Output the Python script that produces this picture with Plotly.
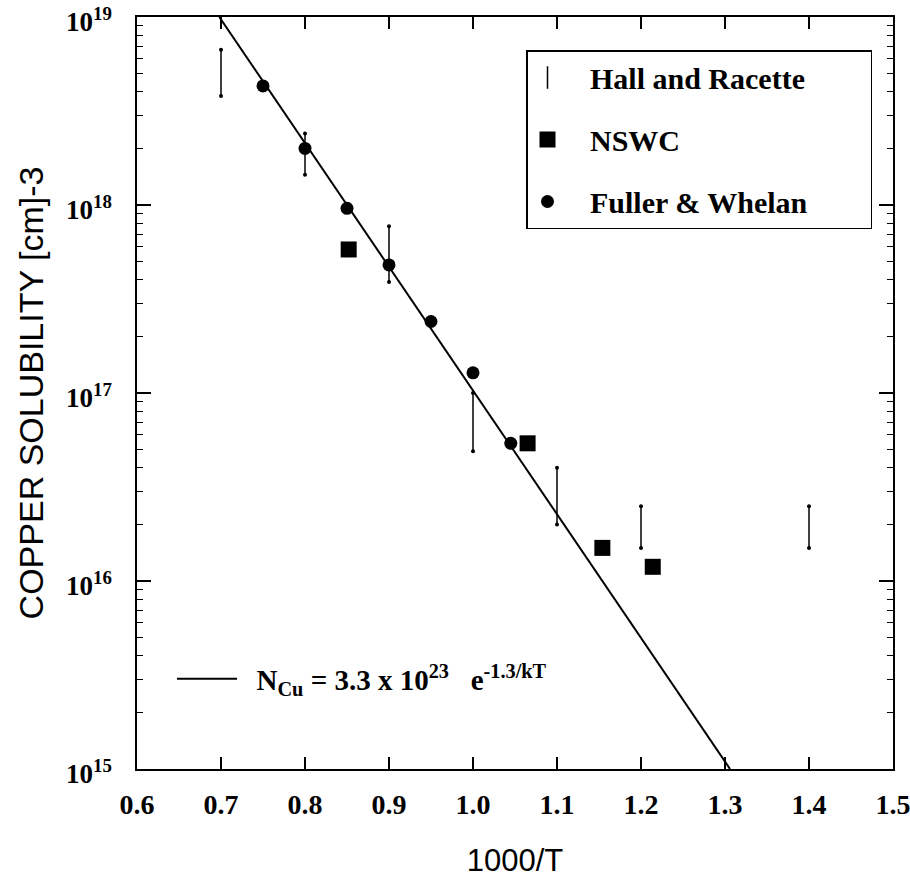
import plotly.graph_objects as go

# ---- data ----
fuller_x = [0.75, 0.80, 0.85, 0.90, 0.95, 1.00, 1.045]
fuller_y = [4.3e18, 2.0e18, 9.6e17, 4.8e17, 2.4e17, 1.28e17, 5.4e16]

nswc_x = [0.852, 1.065, 1.154, 1.214]
nswc_y = [5.8e17, 5.4e16, 1.5e16, 1.19e16]

hall_x = [0.70, 0.80, 0.90, 1.00, 1.10, 1.20, 1.40]
hall_low = [3.8e18, 1.45e18, 3.9e17, 4.9e16, 2.0e16, 1.5e16, 1.5e16]
hall_high = [6.7e18, 2.4e18, 7.7e17, 1.0e17, 4.0e16, 2.5e16, 2.5e16]

fit_x = [0.698, 1.306]
fit_y = [1e19, 1e15]

x_ticks = [0.6, 0.7, 0.8, 0.9, 1.0, 1.1, 1.2, 1.3, 1.4, 1.5]
y_exps = [15, 16, 17, 18, 19]

SERIF = "Liberation Serif, Times New Roman, serif"
SANS = "Liberation Sans, Arial, sans-serif"
NB = "\u00a0"

# build Hall & Racette vertical bars (segments with end dots)
hx, hy = [], []
for x, lo, hi in zip(hall_x, hall_low, hall_high):
    hx += [x, x, None]
    hy += [hi, lo, None]

fig = go.Figure()

fig.add_trace(go.Scatter(
    x=hx, y=hy, mode="lines+markers",
    line=dict(color="black", width=1.5),
    marker=dict(color="black", size=4),
    showlegend=False, hoverinfo="skip"))

# legend entry for Hall and Racette
fig.add_trace(go.Scatter(
    x=[None], y=[None], mode="markers", name=NB * 3 + "Hall and Racette" + NB * 8,
    marker=dict(symbol="line-ns-open", size=16, color="black",
                line=dict(color="black", width=1.5)),
    legendgroup="a"))

fig.add_trace(go.Scatter(
    x=nswc_x, y=nswc_y, mode="markers", name=NB * 3 + "NSWC",
    marker=dict(symbol="square", size=16, color="black"),
    legendgroup="b"))

fig.add_trace(go.Scatter(
    x=fuller_x, y=fuller_y, mode="markers", name=NB * 3 + "Fuller & Whelan",
    marker=dict(symbol="circle", size=13, color="black"),
    legendgroup="c"))

fig.add_trace(go.Scatter(
    x=fit_x, y=fit_y, mode="lines",
    name=NB * 2 + "N<sub>Cu</sub> = 3.3 x 10<sup>23</sup>" + NB * 3 + "e<sup>-1.3/kT</sup>",
    line=dict(color="black", width=2),
    legend="legend2"))

PW = 756.0
PH = 752.0
fig.update_layout(
    width=910, height=878,
    margin=dict(l=137, r=17, t=17, b=109, autoexpand=False),
    paper_bgcolor="white", plot_bgcolor="white",
    legend=dict(
        x=(526 - 137) / PW, y=1 - (50 - 17) / PH,
        xanchor="left", yanchor="top",
        font=dict(family=SERIF, size=30, color="black", weight="bold"),
        bordercolor="black", borderwidth=1.5, bgcolor="white",
        tracegroupgap=20, itemwidth=30,
    ),
    legend2=dict(
        x=(172 - 137) / PW, y=1 - (679 - 17) / PH, xanchor="left", yanchor="middle",
        font=dict(family=SERIF, size=29, color="black", weight="bold"),
        borderwidth=0, bgcolor="rgba(0,0,0,0)", itemwidth=60,
    ),
)

fig.update_xaxes(
    range=[0.6, 1.5], tickvals=x_ticks, ticktext=[f"{v:.1f}" for v in x_ticks],
    ticks="inside", ticklen=12, tickwidth=1.5, tickcolor="black",
    showline=True, linecolor="black", linewidth=1.5, mirror="ticks",
    showgrid=False, zeroline=False, automargin=False,
    ticklabelstandoff=10, ticklabeloverflow="allow",
    tickfont=dict(family=SERIF, size=28, color="black", weight="bold"),
    title=dict(text="1000/T", font=dict(family=SANS, size=31, color="black"), standoff=34),
)
fig.update_yaxes(
    type="log", range=[15, 19],
    tickvals=[10.0 ** e for e in y_exps],
    ticktext=[f"10<sup>{e}</sup>" for e in y_exps],
    ticks="inside", ticklen=14, tickwidth=1.5, tickcolor="black",
    minor=dict(ticks="inside", ticklen=6, tickwidth=1, tickcolor="black", dtick="D1"),
    showline=True, linecolor="black", linewidth=1.5, mirror="ticks",
    showgrid=False, zeroline=False, automargin=False,
    ticklabelstandoff=18, ticklabeloverflow="allow", ticklabelshift=5,
    tickfont=dict(family=SERIF, size=27, color="black", weight="bold"),
    title=dict(text="COPPER SOLUBILITY [cm]-3", font=dict(family=SANS, size=34, color="black"), standoff=12),
)

fig.write_html("out.html")
